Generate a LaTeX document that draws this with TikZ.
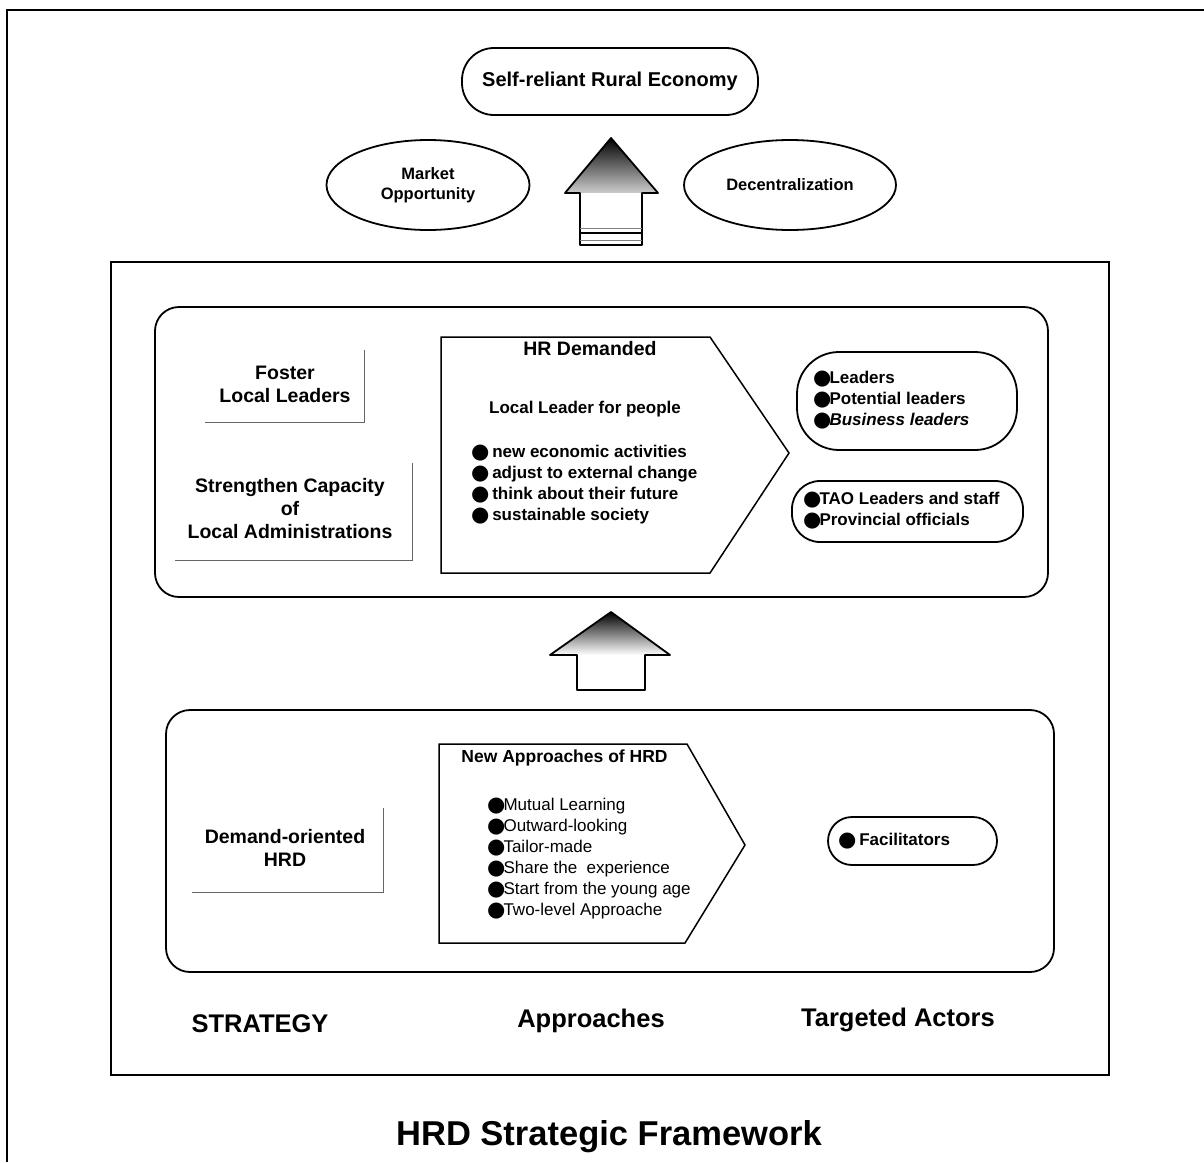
\documentclass[tikz,border=0pt]{standalone}
\usepackage{fontspec}
\setmainfont{Liberation Sans}
\newfontfamily\dotfont{DejaVu Sans}
\usetikzlibrary{shapes.geometric}
\newcommand\bul{\kern-1pt{\dotfont\fontsize{21}{21}\selectfont\raisebox{-0.6pt}{●}}\kern-2pt}
\newcommand\fs[2]{\fontsize{#1}{#2}\selectfont}

\tikzset{
  frame/.style={line width=1.8pt, line join=round},
  shad/.style={line width=1pt, black!60},
  oval/.style={draw, ellipse, line width=1.8pt, inner sep=0pt, font=\bfseries\fs{16.5}{20}, align=center},
  head/.style={font=\bfseries\fs{19.5}{23}, align=center, inner sep=0pt},
  lst/.style={anchor=west, align=left, inner sep=0pt},
  lbl/.style={font=\bfseries\fs{25.5}{30}, inner sep=0pt},
}

\begin{document}
\begin{tikzpicture}[x=1pt,y=-1pt]
  \useasboundingbox[fill=white] (0,0) rectangle (1204,1162);

  % page frame
  \draw[line width=2pt] (7,1162) -- (7,10) -- (1204,10);

  % goal
  \node[draw, frame, rounded corners=32pt, minimum width=296pt, minimum height=67pt,
        font=\bfseries\fs{20}{24}, inner sep=0pt] (goal) at (610,81.5) {Self-reliant Rural Economy};

  % driving factors
  \node[oval, minimum width=203pt, minimum height=90pt] (market) at (428,185) {Market\\Opportunity};
  \node[oval, minimum width=212pt, minimum height=90pt] (decen) at (790,185) {Decentralization};

  % upward arrow towards the goal
  \coordinate (ta) at (611,138);
  \shade[top color=black, bottom color=black!20] (ta) -- (658,193) -- (565,193) -- cycle;
  \fill[white] (581,193) rectangle (641,244);
  \draw[frame] (ta) -- (658,193) -- (642,193) -- (642,245) -- (580,245) -- (580,193) -- (565,193) -- cycle;
  \draw[line width=0.8pt, black!50] (580,228) -- (642,228);
  \draw[line width=1.4pt] (580,233) -- (642,233);
  \draw[line width=0.8pt, black!50] (580,240) -- (642,240);

  % main frame
  \draw[line width=2pt] (111,262) rectangle (1109,1075);

  % ---------- upper panel ----------
  \draw[frame, rounded corners=24pt] (155,307) rectangle (1048,597);

  \node[head] (foster) at (285,384) {Foster\\Local Leaders};
  \draw[shad] (205,422) -| (364,350);
  \node[head] (capac) at (290,509) {Strengthen Capacity\\of\\Local Administrations};
  \draw[shad] (175,560) -| (412,463);

  \draw[line width=1.5pt, line join=miter] (441,337) -- (710,337) -- (789,453) -- (710,573) -- (441,573) -- cycle;
  \node[head, fill=white, inner xsep=9pt, inner ysep=4pt] (hrd) at (590,349) {HR Demanded};
  \node[font=\bfseries\fs{17}{21}, inner sep=0pt] (llp) at (585,409) {Local Leader for people};
  \node[lst, font=\bfseries\fs{17}{21}] (needs) at (472,484.5)
    {\bul\ new economic activities\\\bul\ adjust to external change\\\bul\ think about their future\\\bul\ sustainable society};

  \draw[frame, rounded corners=42pt] (797,352) rectangle (1017,450);
  \node[lst, font=\bfseries\fs{17}{21}] (lead) at (814,400)
    {\bul Leaders\\\bul Potential leaders\\\bul\textit{Business leaders}};
  \draw[frame, rounded corners=28pt] (792,481) rectangle (1023,542);
  \node[lst, font=\bfseries\fs{17}{21}] (tao) at (804,510.5)
    {\bul TAO Leaders and staff\\\bul Provincial officials};

  % arrow between the panels
  \coordinate (ma) at (611,612);
  \shade[top color=black, bottom color=white] (ma) -- (670,655) -- (550,655) -- cycle;
  \draw[frame] (ma) -- (670,655) -- (645,655) -- (645,690) -- (577,690) -- (577,655) -- (550,655) -- cycle;

  % ---------- lower panel ----------
  \draw[frame, rounded corners=24pt] (166,710) rectangle (1054,972);

  \node[head] (demand) at (285,848) {Demand-oriented\\HRD};
  \draw[shad] (192,892) -| (383,808);

  \draw[line width=1.5pt, line join=miter] (439,744) -- (687,744) -- (745,845) -- (685,943) -- (439,943) -- cycle;
  \node[head, font=\bfseries\fs{17.5}{21}] (newapp) at (564.5,758) {New Approaches of HRD};
  \node[lst, font=\fs{17}{21}] (appr) at (488,858.5)
    {\bul Mutual Learning\\\bul Outward-looking\\\bul Tailor-made\\\bul Share the\ \ experience\\\bul Start from the young age\\\bul Two-level Approache};

  \draw[frame, rounded corners=24pt] (828,817) rectangle (997,865);
  \node[lst, font=\bfseries\fs{17}{21}] (facil) at (839,841) {\bul\ Facilitators};

  % column captions
  \node[lbl] (cstrat) at (260,1024) {STRATEGY};
  \node[lbl] (cappr) at (591,1021) {Approaches};
  \node[lbl] (cact) at (898,1020) {Targeted Actors};

  % title
  \node[font=\bfseries\fs{34.5}{40}, inner sep=0pt] (title) at (609,1137) {HRD Strategic Framework};
\end{tikzpicture}
\end{document}
